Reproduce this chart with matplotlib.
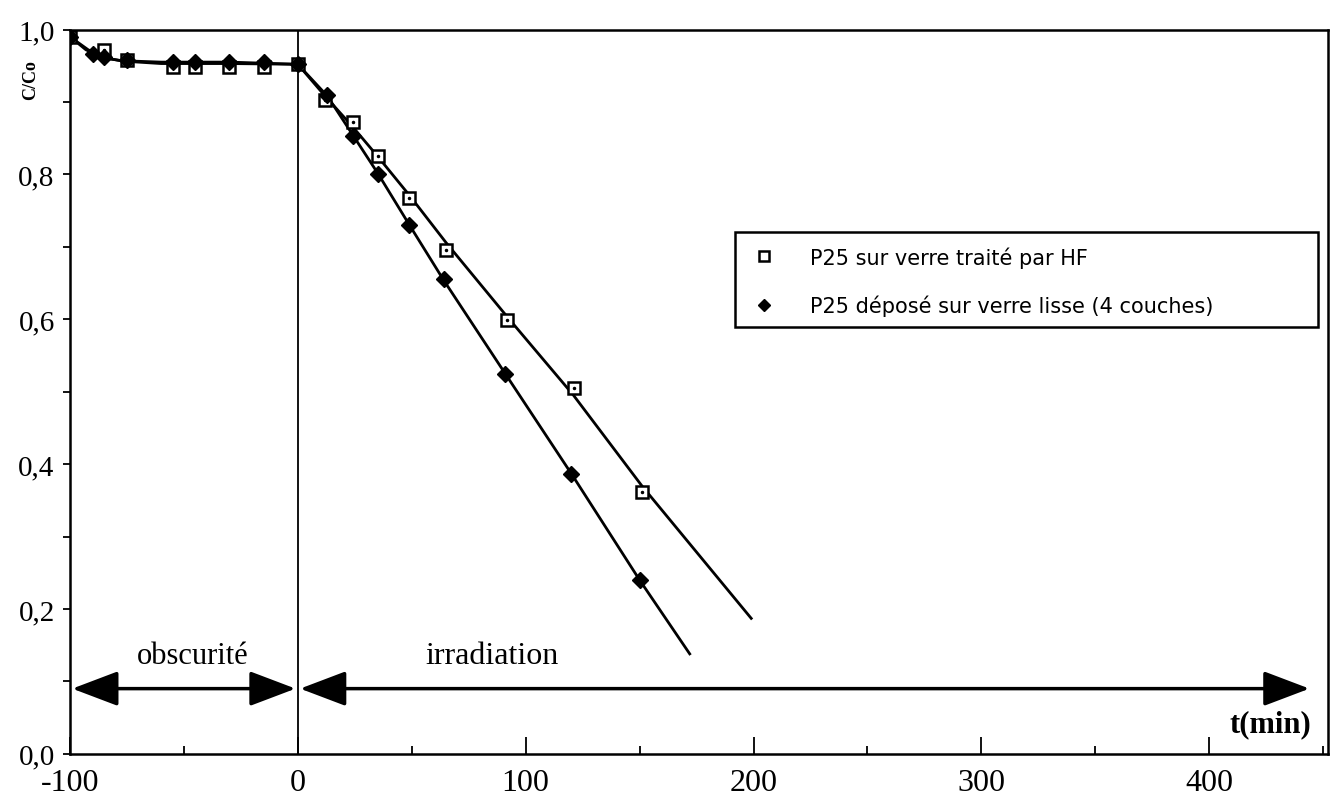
import matplotlib.pyplot as plt
import numpy as np
from matplotlib.patches import Rectangle

# P25 sur verre traite par HF (carres)
t_hf = [-100, -85, -75, -55, -45, -30, -15, 0, 12, 24, 35, 49, 65, 92, 121, 151]
c_hf = [0.99, 0.972, 0.958, 0.948, 0.948, 0.948, 0.948, 0.952, 0.902, 0.873, 0.825, 0.768, 0.695, 0.599, 0.505, 0.362]

# P25 depose sur verre lisse, 4 couches (losanges)
t_lisse = [-100, -90, -85, -75, -55, -45, -30, -15, 0, 13, 24, 35, 49, 64, 91, 120, 150]
c_lisse = [0.99, 0.966, 0.962, 0.958, 0.955, 0.955, 0.955, 0.955, 0.952, 0.91, 0.853, 0.801, 0.73, 0.655, 0.525, 0.386, 0.24]

# courbes tracees
fit_t_hf = [-100, -92, -84, -75, -60, -30, 0, 12, 24, 35, 49, 65, 92, 121, 151, 199]
fit_c_hf = [0.99, 0.972, 0.96, 0.956, 0.953, 0.953, 0.952, 0.908, 0.866, 0.825, 0.771, 0.706, 0.603, 0.495, 0.37, 0.187]
fit_t_lisse = [-100, -93, -86, -78, -60, -30, 0, 13, 24, 35, 49, 64, 91, 120, 150, 172]
fit_c_lisse = [0.99, 0.972, 0.962, 0.957, 0.955, 0.955, 0.952, 0.908, 0.855, 0.802, 0.73, 0.654, 0.525, 0.387, 0.24, 0.138]

xticks = [-100, 0, 100, 200, 300, 400]
yticks = [0.0, 0.2, 0.4, 0.6, 0.8, 1.0]

serif = 'Liberation Serif'

fig = plt.figure(figsize=(13.33, 8.03), dpi=100)
ax = fig.add_axes([0.0525, 0.06, 0.9435, 0.902])

ax.plot(fit_t_hf, fit_c_hf, color='black', lw=2.0, zorder=2)
ax.plot(fit_t_lisse, fit_c_lisse, color='black', lw=2.0, zorder=2)

ax.plot(t_hf, c_hf, ls='none', marker='s', ms=9, mfc='white', mec='black', mew=1.8,
        zorder=3, label='P25 sur verre traité par HF')
ax.plot(t_hf, c_hf, ls='none', marker='.', ms=3, color='black', zorder=4)
ax.plot(t_lisse, c_lisse, ls='none', marker='D', ms=8, color='black', zorder=3,
        label='P25 déposé sur verre lisse (4 couches)')

ax.axvline(0, color='black', lw=1.3)

# fleches obscurite / irradiation
arr = dict(arrowstyle='<|-|>,head_length=0.95,head_width=0.36', color='black', lw=2.5,
           shrinkA=0, shrinkB=0, mutation_scale=30)
ax.annotate('', xy=(-99, 0.09), xytext=(-1, 0.09), arrowprops=arr)
ax.annotate('', xy=(1, 0.09), xytext=(444, 0.09), arrowprops=arr)
ax.text(-46, 0.136, 'obscurité', family=serif, fontsize=22, ha='center', va='center')
ax.text(85, 0.136, 'irradiation', family=serif, fontsize=23, ha='center', va='center')
ax.text(427, 0.042, 't(min)', family=serif, fontsize=22, fontweight='bold', ha='center', va='center')

ax.set_xlim(-100, 452)
ax.set_ylim(0, 1.0)
ax.set_xticks(xticks)
ax.set_xticklabels([str(v) for v in xticks], family=serif, fontsize=23)
ax.set_xticks(np.arange(-50, 451, 100), minor=True)
ax.set_yticks(yticks)
ax.set_yticklabels([('%.1f' % v).replace('.', ',') for v in yticks], family=serif, fontsize=21)
ax.set_yticks(np.arange(0.1, 1.0, 0.2), minor=True)
ax.tick_params(axis='x', which='major', direction='in', length=12, width=1.3, pad=10)
ax.tick_params(axis='x', which='minor', direction='in', length=6, width=1.3)
ax.tick_params(axis='y', which='both', direction='out', length=5, width=1.3, pad=6)
for s in ax.spines.values():
    s.set_linewidth(1.8)

fig.text(0.023, 0.9, 'C/Co', family=serif, fontsize=13, fontweight='bold', rotation=90,
         ha='center', va='center')

leg = ax.legend(loc='upper left', bbox_to_anchor=(0.5286, 0.721), prop={'family': 'DejaVu Sans', 'size': 15},
                frameon=False, borderpad=0.2, labelspacing=1.3, handlelength=1.4,
                handletextpad=1.5, markerscale=0.8)
ax.add_patch(Rectangle((0.5286, 0.589), 0.4634, 0.132, transform=ax.transAxes,
                       fill=False, edgecolor='black', lw=1.8, zorder=5))

fig.savefig('out.png', dpi=100)
